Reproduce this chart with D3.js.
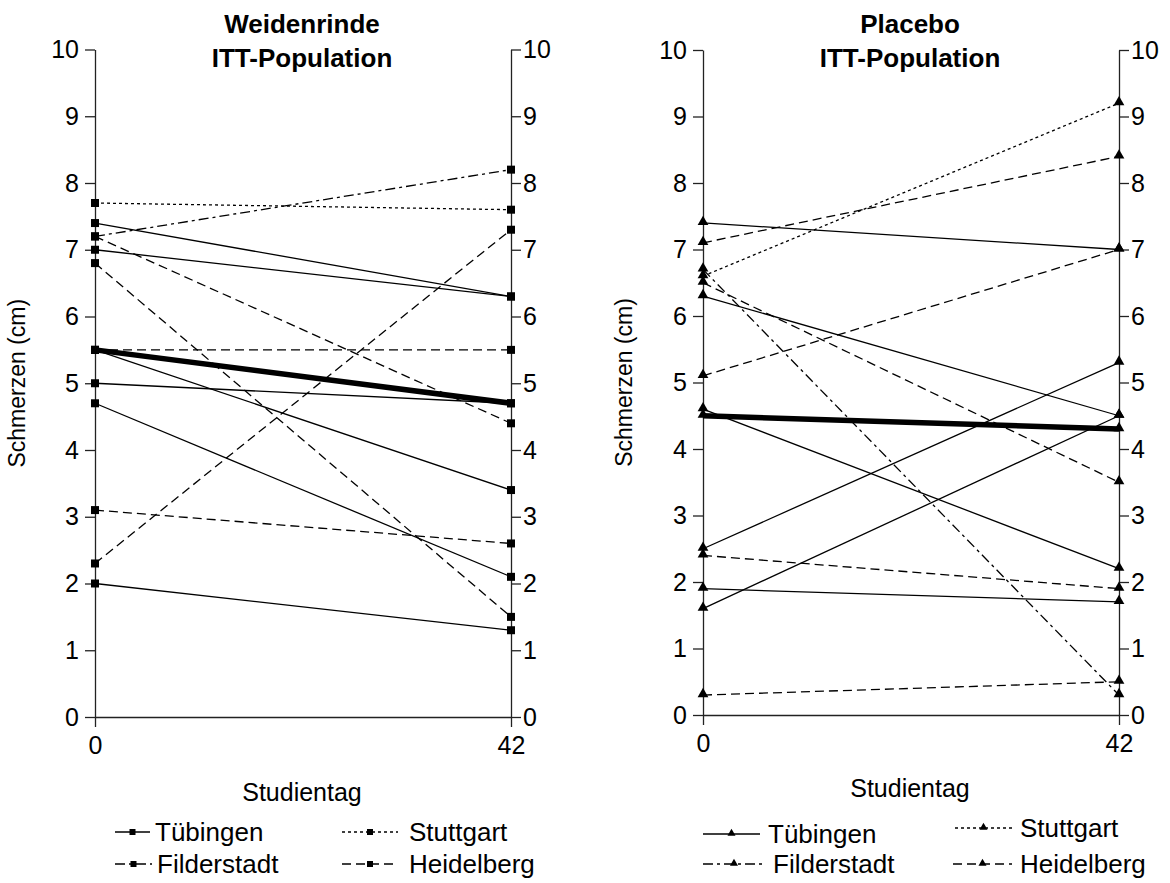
<!DOCTYPE html>
<html>
<head>
<meta charset="utf-8">
<script src="https://cdn.jsdelivr.net/npm/d3@7"></script>
<style>
  html, body { margin: 0; padding: 0; background: #fff; }
  svg { display: block; font-family: "Liberation Sans", Arial, sans-serif; }
</style>
</head>
<body>
<svg id="chart" width="1170" height="883"></svg>
<script>
// Study days on the x axis
const days = [0, 42];
const yTicks = [0, 1, 2, 3, 4, 5, 6, 7, 8, 9, 10];

// Pain scores (cm) per patient: [day 0, day 42] — willow bark group
const weidenTuebingen = [[7.4, 6.3], [7.0, 6.3], [5.5, 3.4], [5.0, 4.7], [4.7, 2.1], [2.0, 1.3]];
const weidenStuttgart = [[7.7, 7.6]];
const weidenFilderstadt = [[7.2, 8.2]];
const weidenHeidelberg = [[7.2, 4.4], [6.8, 1.5], [5.5, 5.5], [3.1, 2.6], [2.3, 7.3]];
const weidenMean = [5.5, 4.7];

// Pain scores (cm) per patient: [day 0, day 42] — placebo group
const placeboTuebingen = [[7.4, 7.0], [6.3, 4.5], [4.6, 2.2], [2.5, 5.3], [1.9, 1.7], [1.6, 4.5]];
const placeboStuttgart = [[6.6, 9.2]];
const placeboFilderstadt = [[6.7, 0.3]];
const placeboHeidelberg = [[7.1, 8.4], [6.5, 3.5], [5.1, 7.0], [2.4, 1.9], [0.3, 0.5]];
const placeboMean = [4.5, 4.3];

const centres = ["Tübingen", "Stuttgart", "Filderstadt", "Heidelberg"];
const dashes = {
  "Tübingen": null,
  "Stuttgart": "3,3",
  "Filderstadt": "10,4,3,4",
  "Heidelberg": "9,5"
};

const svg = d3.select("#chart");

function drawPanel(cfg) {
  const x = d3.scaleLinear().domain([0, 42]).range([cfg.x0, cfg.x1]);
  const y = d3.scaleLinear().domain([0, 10]).range([cfg.yb, cfg.yt]);
  const g = svg.append("g");

  // titles
  cfg.title.forEach((t, i) => {
    g.append("text").attr("x", cfg.cx).attr("y", cfg.titleY + i * 34)
      .attr("text-anchor", "middle").attr("font-weight", "bold")
      .attr("font-size", 26).text(t);
  });

  // axes
  const axStyle = sel => {
    sel.attr("font-size", 25).attr("font-family", "Liberation Sans, Arial, sans-serif");
    sel.selectAll("path,line").attr("stroke", "#222").attr("stroke-width", 1.3);
    sel.selectAll("text").attr("fill", "#000");
  };
  g.append("g").attr("transform", `translate(${cfg.x0},0)`)
    .call(d3.axisLeft(y).tickValues(yTicks).tickSize(10).tickPadding(6).tickSizeOuter(0))
    .call(axStyle);
  g.append("g").attr("transform", `translate(${cfg.x1},0)`)
    .call(d3.axisRight(y).tickValues(yTicks).tickSize(10).tickPadding(2).tickSizeOuter(0))
    .call(axStyle);
  g.append("g").attr("transform", `translate(0,${cfg.yb})`)
    .call(d3.axisBottom(x).tickValues(days).tickSize(10).tickPadding(9).tickSizeOuter(0))
    .call(axStyle);

  // axis labels
  g.append("text")
    .attr("transform", `translate(${cfg.ylabX},${(cfg.yb + cfg.yt) / 2}) rotate(-90)`)
    .attr("text-anchor", "middle").attr("font-size", 23).text("Schmerzen (cm)");
  g.append("text").attr("x", cfg.cx).attr("y", cfg.xlabY)
    .attr("text-anchor", "middle").attr("font-size", 25).text("Studientag");

  const line = d3.line().x((d, i) => x(days[i])).y(d => y(d));
  const sym = d3.symbol().type(cfg.symbol).size(cfg.symSize);

  const plot = g.append("g");
  cfg.series.forEach(s => {
    s.rows.forEach(r => {
      plot.append("path").attr("d", line(r)).attr("fill", "none")
        .attr("stroke", "#000").attr("stroke-width", 1.3)
        .attr("stroke-dasharray", dashes[s.name]);
    });
  });
  plot.append("path").attr("d", line(cfg.mean)).attr("fill", "none")
    .attr("stroke", "#000").attr("stroke-width", 5.5);

  const pts = [];
  cfg.series.forEach(s => s.rows.forEach(r => r.forEach((v, i) => pts.push([days[i], v]))));
  cfg.mean.forEach((v, i) => pts.push([days[i], v]));
  plot.selectAll(null).data(pts).enter().append("path")
    .attr("d", sym).attr("fill", "#000")
    .attr("transform", d => `translate(${x(d[0])},${y(d[1]) + cfg.symDy})`);

  // legend
  cfg.legend.forEach((L, i) => {
    const name = centres[i];
    const lg = g.append("g");
    const ly = L.y - 9;
    lg.append("line").attr("x1", L.lx0).attr("x2", L.lx1).attr("y1", ly).attr("y2", ly)
      .attr("stroke", "#000").attr("stroke-width", 1.3).attr("stroke-dasharray", dashes[name]);
    lg.append("path").attr("d", d3.symbol().type(cfg.symbol).size(cfg.legSymSize)())
      .attr("transform", `translate(${(L.lx0 + L.lx1) / 2},${ly + cfg.symDy * 0.6})`);
    lg.append("text").attr("x", L.tx).attr("y", L.y).attr("font-size", 26).text(name);
  });
}

drawPanel({
  x0: 95, x1: 511, yb: 717, yt: 49.5, cx: 302,
  title: ["Weidenrinde", "ITT-Population"], titleY: 33,
  ylabX: 25, xlabY: 801,
  symbol: d3.symbolSquare, symSize: 64, symDy: 0, legSymSize: 36,
  mean: weidenMean,
  series: [
    { name: "Tübingen", rows: weidenTuebingen },
    { name: "Stuttgart", rows: weidenStuttgart },
    { name: "Filderstadt", rows: weidenFilderstadt },
    { name: "Heidelberg", rows: weidenHeidelberg }
  ],
  legend: [
    { lx0: 115, lx1: 150, tx: 155, y: 841 },
    { lx0: 342, lx1: 398, tx: 409, y: 841 },
    { lx0: 115, lx1: 152, tx: 157, y: 873 },
    { lx0: 342, lx1: 398, tx: 409, y: 873 }
  ]
});

drawPanel({
  x0: 703, x1: 1119, yb: 715, yt: 50, cx: 910,
  title: ["Placebo", "ITT-Population"], titleY: 33,
  ylabX: 632, xlabY: 797,
  symbol: d3.symbolTriangle, symSize: 50, symDy: -1, legSymSize: 28,
  mean: placeboMean,
  series: [
    { name: "Tübingen", rows: placeboTuebingen },
    { name: "Stuttgart", rows: placeboStuttgart },
    { name: "Filderstadt", rows: placeboFilderstadt },
    { name: "Heidelberg", rows: placeboHeidelberg }
  ],
  legend: [
    { lx0: 703, lx1: 760, tx: 768, y: 843 },
    { lx0: 955, lx1: 1012, tx: 1020, y: 837 },
    { lx0: 703, lx1: 765, tx: 773, y: 873 },
    { lx0: 953, lx1: 1012, tx: 1020, y: 873 }
  ]
});
</script>
</body>
</html>
